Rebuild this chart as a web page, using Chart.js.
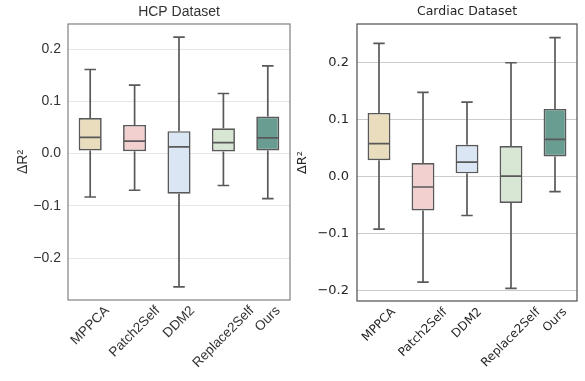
<!DOCTYPE html>
<html>
<head>
<meta charset="utf-8">
<script src="https://cdn.jsdelivr.net/npm/chart.js@4.4.1/dist/chart.umd.min.js"></script>
<style>
  html, body { margin: 0; padding: 0; background: #fff; }
  #wrap { position: relative; width: 585px; height: 381px; }
  canvas { position: absolute; top: 0; }
  #hcp { left: 0; }
  #cardiac { left: 293px; }
</style>
</head>
<body>
<div id="wrap">
  <canvas id="hcp" width="293" height="381"></canvas>
  <canvas id="cardiac" width="292" height="381"></canvas>
</div>
<script>
/* categories and box colours */
const methods = ["MPPCA", "Patch2Self", "DDM2", "Replace2Self", "Ours"];
const boxColors = ["#e9ddbd", "#f2d0d0", "#dbe6f5", "#d8e7d4", "#6a9d92"];

/* HCP dataset: whisker ends, quartiles and medians */
const hcpMin = [-0.083, -0.070, -0.255, -0.061, -0.086];
const hcpQ1 = [0.006, 0.0045, -0.0765, 0.004, 0.006];
const hcpMedian = [0.031, 0.024, 0.013, 0.021, 0.030];
const hcpQ3 = [0.068, 0.055, 0.043, 0.0486, 0.071];
const hcpMax = [0.161, 0.131, 0.223, 0.115, 0.168];

/* Cardiac dataset */
const cardiacMin = [-0.093, -0.186, -0.069, -0.197, -0.027];
const cardiacQ1 = [0.028, -0.060, 0.005, -0.047, 0.0346];
const cardiacMedian = [0.057, -0.019, 0.0246, 0.0, 0.0645];
const cardiacQ3 = [0.111, 0.023, 0.055, 0.053, 0.118];
const cardiacMax = [0.233, 0.147, 0.130, 0.199, 0.243];

const formatTick = (v) => v.toFixed(1).replace("-", "\u2212");

/* draws whiskers, caps, medians, the frame and the rotated category labels */
function boxPlugin(stats, look) {
    return {
        id: "boxWhiskers",
        afterDatasetsDraw(chart) {
            const { ctx, chartArea, scales: { x, y } } = chart;
            const meta = chart.getDatasetMeta(0);
            ctx.save();
            ctx.strokeStyle = "#595959";
            ctx.lineWidth = 1.7;
            meta.data.forEach((bar, i) => {
                const cx = bar.x;
                const half = bar.width / 2;
                const cap = half / 2;
                const yMin = y.getPixelForValue(stats.min[i]);
                const yQ1 = y.getPixelForValue(stats.q1[i]);
                const yMed = y.getPixelForValue(stats.median[i]);
                const yQ3 = y.getPixelForValue(stats.q3[i]);
                const yMax = y.getPixelForValue(stats.max[i]);
                ctx.beginPath();
                ctx.moveTo(cx, yQ3); ctx.lineTo(cx, yMax);
                ctx.moveTo(cx - cap, yMax); ctx.lineTo(cx + cap, yMax);
                ctx.moveTo(cx, yQ1); ctx.lineTo(cx, yMin);
                ctx.moveTo(cx - cap, yMin); ctx.lineTo(cx + cap, yMin);
                ctx.moveTo(cx - half + 1, yMed); ctx.lineTo(cx + half - 1, yMed);
                ctx.stroke();
            });
            // frame around the plot
            ctx.strokeStyle = look.frame;
            ctx.lineWidth = 1.2;
            ctx.strokeRect(chartArea.left, chartArea.top, chartArea.width, chartArea.height);
            ctx.restore();
        },
        afterDraw(chart) {
            const { ctx, chartArea, scales: { x } } = chart;
            ctx.save();
            ctx.font = look.labelSize + "px " + look.family;
            ctx.fillStyle = look.text;
            ctx.textAlign = "center";
            ctx.textBaseline = "middle";
            const h = look.labelSize * 0.75;
            methods.forEach((label, i) => {
                const w = ctx.measureText(label).width;
                const side = (w + h) * Math.SQRT1_2;
                const cy = chartArea.bottom + look.labelPad + side / 2;
                ctx.save();
                ctx.translate(x.getPixelForValue(i), cy);
                ctx.rotate(-Math.PI / 4);
                ctx.fillText(label, 0, 0);
                ctx.restore();
            });
            ctx.restore();
        },
    };
}

function makeChart(id, title, stats, look) {
    const config = {
        type: "bar",
        data: {
            labels: methods,
            datasets: [{
                data: methods.map((m, i) => [stats.q1[i], stats.q3[i]]),
                backgroundColor: boxColors,
                borderColor: "#595959",
                borderWidth: 1.7,
                borderSkipped: false,
                barPercentage: 0.52,
                categoryPercentage: 1,
            }],
        },
        options: {
            responsive: false,
            animation: false,
            layout: { padding: look.padding },
            plugins: {
                legend: { display: false },
                tooltip: { enabled: false },
                title: {
                    display: true,
                    text: title,
                    fullSize: false,
                    color: look.text,
                    font: { family: look.family, size: look.titleSize, weight: "normal" },
                    padding: look.titlePadding,
                },
            },
            scales: {
                x: {
                    grid: { display: false },
                    border: { display: false },
                    ticks: { display: false },
                    afterFit: (s) => { s.height = look.xHeight; },
                },
                y: {
                    min: look.yMin,
                    max: look.yMax,
                    border: { display: false },
                    grid: { color: look.grid, lineWidth: 1, drawTicks: false },
                    ticks: {
                        stepSize: 0.1,
                        includeBounds: false,
                        padding: look.tickPad,
                        color: look.text,
                        font: { family: look.family, size: look.tickSize },
                        callback: formatTick,
                    },
                    title: {
                        display: true,
                        text: "\u0394R\u00b2",
                        color: look.text,
                        font: { family: look.family, size: look.tickSize },
                        padding: { top: look.yTitlePad, bottom: 0 },
                    },
                    afterFit: (s) => { s.width = look.yWidth; },
                },
            },
        },
        plugins: [boxPlugin(stats, look)],
    };
    return new Chart(document.getElementById(id), config);
}

makeChart("hcp", "HCP Dataset",
    { min: hcpMin, q1: hcpQ1, median: hcpMedian, q3: hcpQ3, max: hcpMax },
    {
        family: "'Liberation Sans', Arial, sans-serif",
        text: "#333333", grid: "#e6e6e6", frame: "#808080",
        titleSize: 14, tickSize: 14, labelSize: 13.5,
        titlePadding: { top: 3.6, bottom: 3.6 },
        padding: { left: 10, right: 3, top: 0, bottom: 0 },
        yWidth: 58, yTitlePad: 4.6, tickPad: 7, xHeight: 81, labelPad: 5,
        yMin: -0.28, yMax: 0.248,
    });

makeChart("cardiac", "Cardiac Dataset",
    { min: cardiacMin, q1: cardiacQ1, median: cardiacMedian, q3: cardiacQ3, max: cardiacMax },
    {
        family: "'DejaVu Sans', sans-serif",
        text: "#262626", grid: "#cccccc", frame: "#4d4d4d",
        titleSize: 12.5, tickSize: 13, labelSize: 12,
        titlePadding: { top: 4.3, bottom: 4.7 },
        padding: { left: 0, right: 8, top: 0, bottom: 0 },
        yWidth: 64, yTitlePad: 2.2, tickPad: 8, xHeight: 80, labelPad: 6,
        yMin: -0.219, yMax: 0.267,
    });
</script>
</body>
</html>
